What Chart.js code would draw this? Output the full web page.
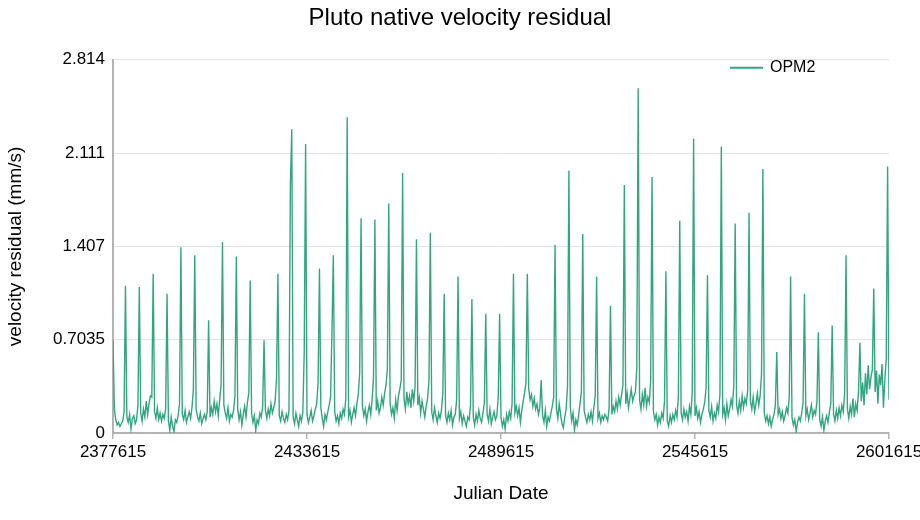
<!DOCTYPE html>
<html>
<head>
<meta charset="utf-8">
<title>Pluto native velocity residual</title>
<script src="https://cdn.jsdelivr.net/npm/chart.js@4.4.1/dist/chart.umd.min.js"></script>
<style>
    html, body { margin: 0; padding: 0; background: #fff; }
    #wrap { width: 920px; height: 520px; }
</style>
</head>
<body>
<div id="wrap"><canvas id="residualChart" width="920" height="520"></canvas></div>
<script>
// Pluto native velocity residual - OPM2

const seriesName = 'OPM2';
const lineColor = '#33a681';

// sampling grid (Julian Date)
const startJD = 2377615;
const stepDays = 400;

// axis ticks
const xTickValues = [2377615, 2433615, 2489615, 2545615, 2601615];
const yTickValues = [0, 0.7035, 1.407, 2.1105, 2.814];
const yTickLabels = ['0', '0.7035', '1.407', '2.111', '2.814'];

// residuals (mm/s), one row per ~4000 day cycle
const residualsA = [
    0.70, 0.18, 0.10, 0.06, 0.08, 0.05, 0.07, 0.09, 0.16, 1.11,
    0.12, 0.08, 0.14, 0.03, 0.11, 0.13, 0.07, 0.10, 0.21, 1.10,
    0.15, 0.09, 0.18, 0.12, 0.24, 0.14, 0.22, 0.28, 0.27, 1.20,
    0.16, 0.11, 0.19, 0.10, 0.15, 0.09, 0.14, 0.11, 0.18, 1.05,
    0.09, 0.02, 0.12, 0.05, 0.01, 0.10, 0.08, 0.13, 0.22, 1.40,
    0.14, 0.10, 0.17, 0.08, 0.12, 0.16, 0.11, 0.19, 0.33, 1.34,
    0.18, 0.12, 0.09, 0.15, 0.07, 0.11, 0.14, 0.10, 0.16, 0.85,
    0.12, 0.19, 0.14, 0.24, 0.16, 0.22, 0.13, 0.25, 0.36, 1.44,
    0.21, 0.15, 0.11, 0.19, 0.09, 0.14, 0.12, 0.17, 0.28, 1.33,
    0.18, 0.10, 0.16, 0.06, 0.14, 0.20, 0.12, 0.23, 0.30, 1.15,
    0.15, 0.08, 0.13, 0.02, 0.10, 0.07, 0.15, 0.12, 0.20, 0.70,
    0.17, 0.11, 0.18, 0.13, 0.22, 0.15, 0.19, 0.24, 0.41, 1.20,
    0.13, 0.09, 0.16, 0.11, 0.08, 0.14, 0.10, 0.17, 1.86, 2.29,
    0.12, 0.07, 0.15, 0.10, 0.05, 0.13, 0.09, 0.16, 0.61, 2.18
];
const residualsB = [
    0.14, 0.08, 0.12, 0.17, 0.09, 0.13, 0.18, 0.22, 0.38, 1.24,
    0.19, 0.11, 0.05, 0.14, 0.10, 0.16, 0.21, 0.27, 0.76, 1.34,
    0.16, 0.09, 0.13, 0.07, 0.15, 0.11, 0.18, 0.14, 0.26, 2.38,
    0.12, 0.17, 0.08, 0.14, 0.19, 0.13, 0.22, 0.29, 0.45, 1.62,
    0.20, 0.13, 0.18, 0.09, 0.16, 0.21, 0.14, 0.25, 0.42, 1.61,
    0.17, 0.24, 0.15, 0.19, 0.27, 0.21, 0.30, 0.36, 0.48, 1.73,
    0.22, 0.14, 0.19, 0.11, 0.25, 0.17, 0.28, 0.33, 0.40, 1.96,
    0.26, 0.18, 0.31, 0.22, 0.28, 0.19, 0.33, 0.24, 0.35, 1.46,
    0.21, 0.27, 0.15, 0.24, 0.18, 0.12, 0.20, 0.26, 0.39, 1.51,
    0.16, 0.10, 0.19, 0.13, 0.08, 0.15, 0.11, 0.17, 0.30, 1.05,
    0.13, 0.08, 0.15, 0.10, 0.17, 0.06, 0.12, 0.14, 0.25, 1.18,
    0.11, 0.16, 0.07, 0.13, 0.09, 0.05, 0.12, 0.10, 0.21, 1.01,
    0.12, 0.06, 0.14, 0.09, 0.17, 0.11, 0.08, 0.15, 0.23, 0.90,
    0.14, 0.09, 0.18, 0.07, 0.12, 0.16, 0.10, 0.13, 0.27, 0.90
];
const residualsC = [
    0.12, 0.05, 0.10, 0.03, 0.14, 0.09, 0.16, 0.11, 0.22, 1.20,
    0.15, 0.20, 0.13, 0.19, 0.08, 0.17, 0.24, 0.30, 0.38, 1.20,
    0.33, 0.25, 0.29, 0.20, 0.26, 0.18, 0.22, 0.14, 0.19, 0.40,
    0.13, 0.08, 0.17, 0.05, 0.12, 0.09, 0.15, 0.20, 0.27, 1.42,
    0.18, 0.11, 0.22, 0.14, 0.07, 0.04, 0.12, 0.18, 0.35, 1.98,
    0.20, 0.09, 0.15, 0.02, 0.10, 0.06, 0.13, 0.22, 0.31, 1.50,
    0.17, 0.12, 0.08, 0.14, 0.10, 0.16, 0.09, 0.19, 0.28, 1.18,
    0.11, 0.15, 0.08, 0.13, 0.10, 0.14, 0.12, 0.09, 0.19, 0.96,
    0.14, 0.20, 0.16, 0.24, 0.18, 0.27, 0.21, 0.29, 0.36, 1.87,
    0.22, 0.30, 0.19, 0.26, 0.33, 0.24, 0.28, 0.31, 0.49, 2.60,
    0.25, 0.18, 0.29, 0.21, 0.34, 0.20, 0.27, 0.23, 0.39, 1.93,
    0.16, 0.10, 0.14, 0.06, 0.12, 0.08, 0.15, 0.11, 0.24, 1.22,
    0.09, 0.05, 0.13, 0.08, 0.14, 0.10, 0.17, 0.12, 0.28, 1.60,
    0.15, 0.10, 0.18, 0.12, 0.16, 0.09, 0.20, 0.14, 0.31, 2.22
];
const residualsD = [
    0.13, 0.19, 0.11, 0.16, 0.08, 0.14, 0.18, 0.23, 0.34, 1.19,
    0.17, 0.12, 0.20, 0.09, 0.15, 0.11, 0.21, 0.16, 0.29, 2.16,
    0.14, 0.19, 0.10, 0.22, 0.13, 0.18, 0.25, 0.20, 0.36, 1.58,
    0.21, 0.15, 0.24, 0.17, 0.28, 0.19, 0.26, 0.22, 0.32, 1.66,
    0.24, 0.18, 0.27, 0.16, 0.22, 0.30, 0.21, 0.28, 0.44, 1.99,
    0.15, 0.09, 0.13, 0.07, 0.12, 0.05, 0.10, 0.14, 0.21, 0.61,
    0.14, 0.18, 0.11, 0.16, 0.09, 0.13, 0.19, 0.15, 0.27, 1.18,
    0.12, 0.06, 0.10, 0.01, 0.08, 0.12, 0.09, 0.15, 0.23, 1.05,
    0.13, 0.18, 0.10, 0.15, 0.21, 0.12, 0.17, 0.14, 0.24, 0.76,
    0.10, 0.05, 0.12, 0.02, 0.09, 0.13, 0.08, 0.16, 0.22, 0.81,
    0.14, 0.09, 0.17, 0.11, 0.19, 0.13, 0.21, 0.16, 0.30, 1.34,
    0.18, 0.11, 0.20, 0.14, 0.26, 0.12, 0.22, 0.17, 0.31, 0.68,
    0.24, 0.38, 0.21, 0.45, 0.29, 0.51, 0.33, 0.42, 0.48, 1.09,
    0.31, 0.47, 0.22, 0.44, 0.36, 0.52, 0.19, 0.40, 0.56, 2.01,
    0.25
];

const residuals = [...residualsA, ...residualsB, ...residualsC, ...residualsD];
const points = residuals.map((v, i) => ({ x: startJD + i * stepDays, y: v }));

Chart.defaults.font.family = "'Liberation Sans', Arial, Helvetica, sans-serif";
Chart.defaults.color = '#000';

// legend drawn inside the plot, top right
const cornerLegend = {
    id: 'cornerLegend',
    afterDraw(chart) {
        const ctx = chart.ctx;
        const area = chart.chartArea;
        const x = area.right - 159;
        const y = area.top + 8;
        ctx.save();
        ctx.strokeStyle = lineColor;
        ctx.lineWidth = 2;
        ctx.beginPath();
        ctx.moveTo(x, y);
        ctx.lineTo(x + 33, y);
        ctx.stroke();
        ctx.fillStyle = '#000';
        ctx.font = "16px 'Liberation Sans', Arial, sans-serif";
        ctx.textBaseline = 'middle';
        ctx.fillText(seriesName, x + 40, y);
        ctx.restore();
    }
};

new Chart(document.getElementById('residualChart'), {
    type: 'line',
    data: {
        datasets: [{
            label: seriesName,
            data: points,
            borderColor: lineColor,
            borderWidth: 1.4,
            pointRadius: 0,
            tension: 0,
            fill: false
        }]
    },
    options: {
        responsive: false,
        animation: false,
        layout: { padding: 0 },
        plugins: {
            legend: { display: false },
            tooltip: { enabled: false },
            title: {
                display: true,
                text: 'Pluto native velocity residual',
                font: { size: 24, weight: 'normal' },
                color: '#000',
                padding: { top: 4, bottom: 27 }
            }
        },
        scales: {
            x: {
                type: 'linear',
                min: xTickValues[0],
                max: xTickValues[xTickValues.length - 1],
                afterBuildTicks: (scale) => {
                    scale.ticks = xTickValues.map(v => ({ value: v }));
                },
                afterFit: (scale) => {
                    // keep the plot edge at 889 and let the last label run to the canvas edge
                    scale.height = 87;
                    scale.paddingLeft = 0;
                    scale.paddingRight = 31;
                },
                ticks: {
                    font: { size: 17 },
                    color: '#000',
                    padding: 3,
                    maxRotation: 0,
                    autoSkip: false,
                    callback: (v) => String(v)
                },
                grid: {
                    drawOnChartArea: false,
                    drawTicks: true,
                    tickLength: 6,
                    color: '#b3b3b3',
                    lineWidth: 1.5
                },
                border: { display: true, color: '#b3b3b3', width: 2 },
                title: {
                    display: true,
                    text: 'Julian Date',
                    font: { size: 19 },
                    color: '#000',
                    padding: { top: 0, bottom: 15 }
                }
            },
            y: {
                min: 0,
                max: yTickValues[yTickValues.length - 1],
                afterBuildTicks: (scale) => {
                    scale.ticks = yTickValues.map(v => ({ value: v }));
                },
                afterFit: (scale) => {
                    scale.width = 113;
                },
                ticks: {
                    font: { size: 17 },
                    color: '#000',
                    padding: 8,
                    autoSkip: false,
                    callback: (v, i) => yTickLabels[i]
                },
                grid: {
                    drawTicks: false,
                    color: '#e3e3e3',
                    lineWidth: 1
                },
                border: { display: true, color: '#b3b3b3', width: 2 },
                title: {
                    display: true,
                    text: 'velocity residual (mm/s)',
                    font: { size: 19 },
                    color: '#000',
                    padding: { top: 4, bottom: 0 }
                }
            }
        }
    },
    plugins: [cornerLegend]
});
</script>
</body>
</html>
